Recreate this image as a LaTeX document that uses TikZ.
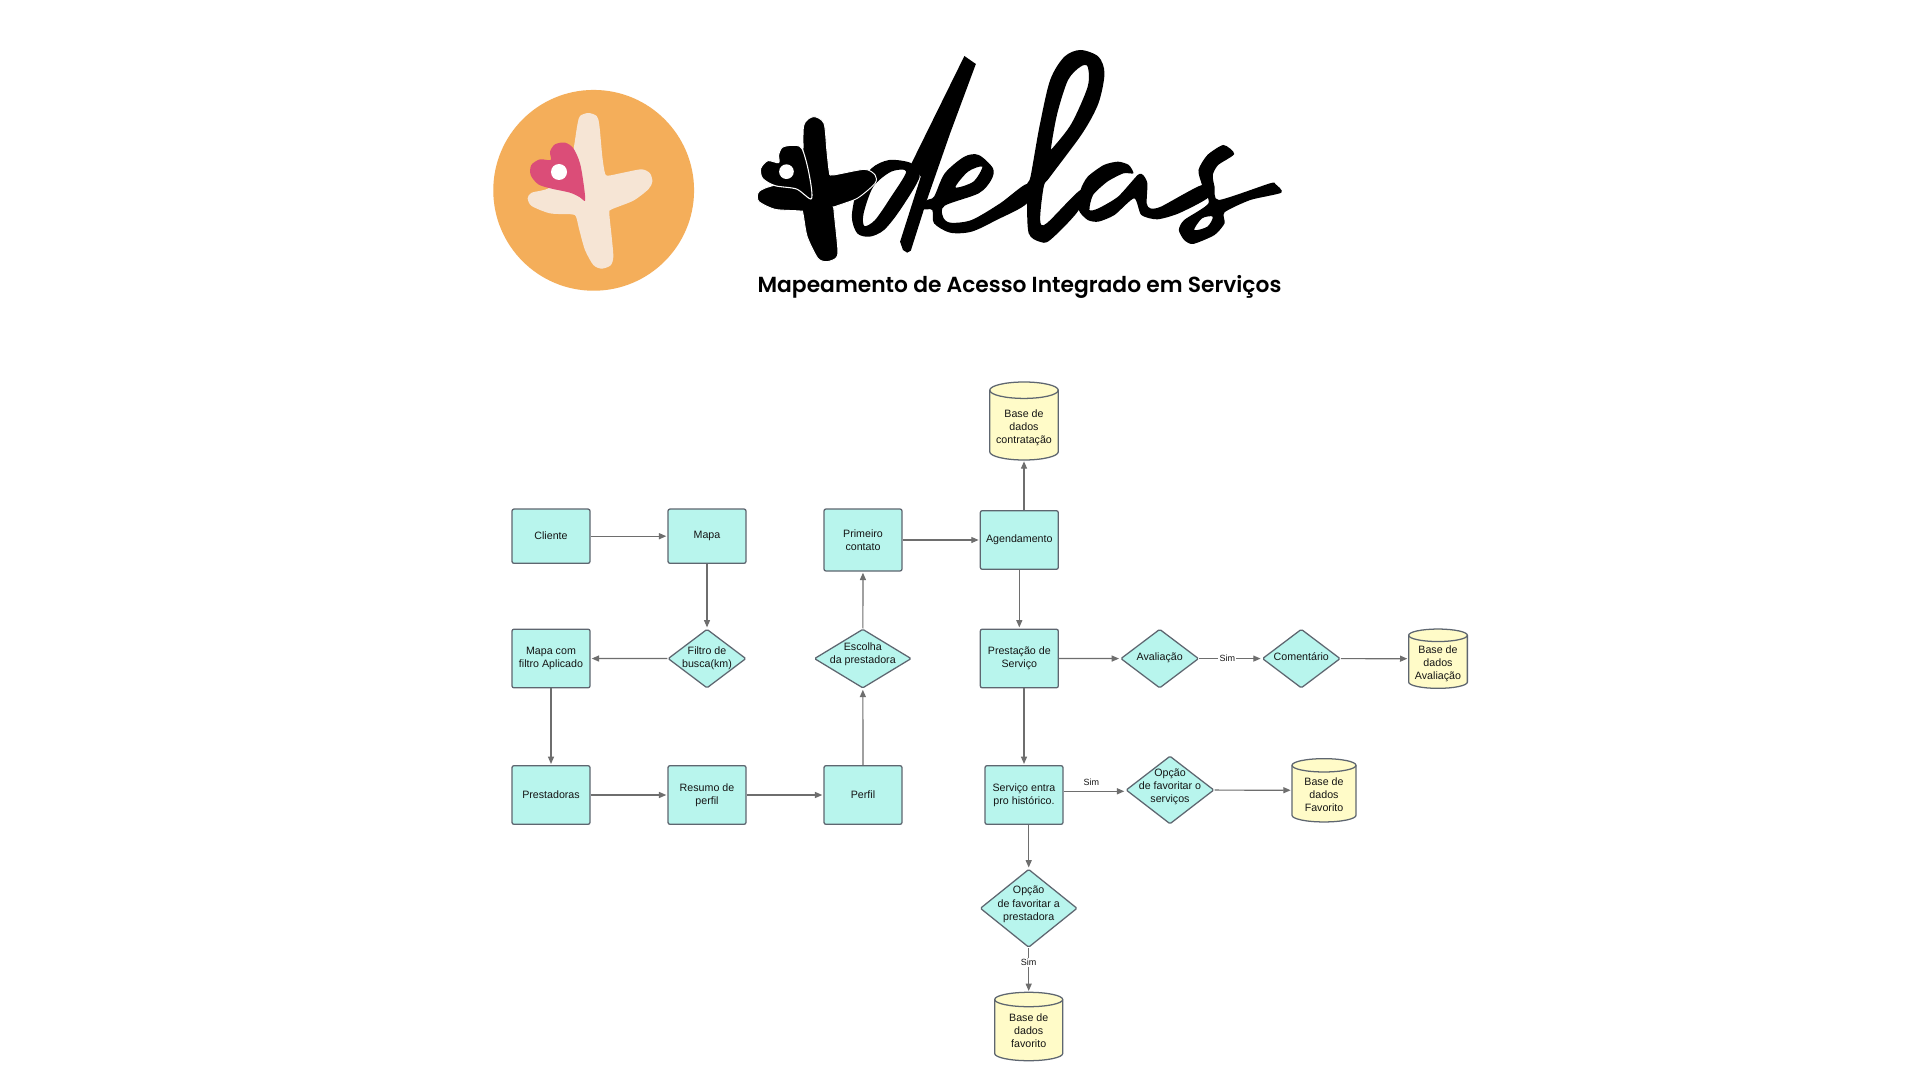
\documentclass[tikz,border=0pt]{standalone}
\usepackage{fontspec}
\setmainfont{Liberation Sans}
\newfontfamily\titlefont{Poppins SemiBold}
\usetikzlibrary{arrows.meta,shapes.geometric,calc}
\definecolor{cfill}{HTML}{B8F5ED}
\definecolor{yfill}{HTML}{FFFBC8}
\definecolor{nodeline}{HTML}{5E6670}
\definecolor{connline}{HTML}{6E6E6E}
\definecolor{ink}{HTML}{151515}
\definecolor{orangebg}{HTML}{F4AE5A}
\definecolor{creamc}{HTML}{F6E5D5}
\definecolor{pinkh}{HTML}{DB4D78}
\tikzset{
  lbl/.style={font=\fontsize{8}{9.85}\selectfont,text=ink,align=center,inner sep=0pt},
  procbox/.style={rectangle,rounded corners=1.5pt,draw=nodeline,line width=0.95pt,fill=cfill,minimum width=58.5pt,inner sep=0pt,lbl},
  oneline/.style={text height=5.9pt,text depth=1.7pt},
  decis/.style={diamond,rounded corners=1pt,draw=nodeline,line width=0.95pt,fill=cfill,inner sep=0pt},
  cylnode/.style={rectangle,inner sep=0pt},
  cylline/.style={draw=nodeline,line width=0.95pt,fill=yfill},
  conn/.style={draw=connline,line width=0.9pt,-{Triangle[length=5.5pt,width=4.5pt]},shorten >=0.8pt},
  simlbl/.style={font=\fontsize{6.75}{8}\selectfont,text=ink,inner sep=1pt},
}
% name, cx, cy, w, h, text, text shift (px)
\newcommand{\dbcyl}[7]{%
  \pgfmathsetmacro\cylL{#2-#4/2}\pgfmathsetmacro\cylR{#2+#4/2}%
  \pgfmathsetmacro\cylT{#3-#5/2}\pgfmathsetmacro\cylB{#3+#5/2}%
  \pgfmathsetmacro\cylRy{#5/9.5}%
  \pgfmathsetmacro\cylRxp{#4/2*0.75}\pgfmathsetmacro\cylRyp{\cylRy*0.75}%
  \draw[cylline] (\cylL,\cylT+\cylRy) arc[start angle=180,end angle=0,x radius=\cylRxp pt,y radius=\cylRyp pt]
    -- (\cylR,\cylB-\cylRy) arc[start angle=0,end angle=-180,x radius=\cylRxp pt,y radius=\cylRyp pt] -- cycle;
  \draw[cylline,fill=none] (\cylR,\cylT+\cylRy) arc[start angle=0,end angle=-180,x radius=\cylRxp pt,y radius=\cylRyp pt];
  \node[cylnode,minimum width=#4*0.75pt,minimum height=#5*0.75pt] (#1) at (#2,#3) {};
  \node[lbl] (#1-t) at (#2,#3+#7) {#6};
}
% name, cx, cy, w, h, text, text shift (px)
\newcommand{\decnode}[7]{%
  \node[decis,minimum width=#4*0.75pt,minimum height=#5*0.75pt] (#1) at (#2,#3) {};
  \node[lbl] (#1-t) at (#2,#3+#7) {#6};
}
\begin{document}
\begin{tikzpicture}[x=0.75pt,y=-0.75pt]
\useasboundingbox (0,0) rectangle (1920,1080);
\fill[white] (0,0) rectangle (1920,1080);

% round logo
\begin{scope}[shift={(490,80)},x=0.25pt,y=-0.25pt]
\fill[orangebg] (311,331) circle[radius=75.3pt];
\fill[creamc] plot[smooth cycle,tension=0.45] coordinates {(262,135)(270,108)(295,99)(320,108)(328,135)(337,230)(345,280)(355,287)(400,278)(455,268)(480,280)(487,305)(475,328)(430,362)(365,388)(358,400)(365,470)(370,530)(362,556)(335,566)(310,555)(285,510)(268,450)(258,410)(245,403)(180,400)(125,378)(113,355)(125,338)(180,322)(240,250)};
\fill[pinkh] plot[smooth cycle,tension=0.5] coordinates {(285,362)(282,320)(270,250)(250,205)(225,188)(195,193)(180,215)(182,240)(150,238)(124,255)(122,285)(145,313)(185,326)(240,338)(270,352)};
\fill[white] (207,276) circle[radius=6pt];
\end{scope}

% wordmark
\begin{scope}[shift={(750,40)},x=0.268pt,y=-0.25pt]
% d stem
\fill[black] (600,48) -- (632,72) -- (560,280) -- (495,480) -- (450,632) -- (440,638) -- (428,630) -- (420,605) -- (478,410) -- (452,370) -- cycle;
% d bowl
\fill[black,even odd rule] plot[smooth cycle,tension=0.5] coordinates {(452,370)(390,360)(340,385)(300,450)(285,530)(300,580)(335,590)(375,570)(420,510)(475,410)}
  plot[smooth cycle,tension=0.5] coordinates {(437,395)(395,395)(345,440)(318,520)(320,558)(350,540)(395,470)};
% plus
\draw[white,line width=0.7pt,fill=black] plot[smooth cycle,tension=0.45] coordinates {(150,258)(178,230)(207,250)(215,330)(222,395)(232,405)(320,388)(350,405)(350,430)(300,475)(238,500)(235,510)(246,630)(240,655)(215,665)(190,655)(160,590)(148,520)(140,513)(70,508)(25,485)(22,460)(40,445)(140,400)};
% heart
\draw[white,line width=0.8pt,fill=black] plot[smooth cycle,tension=0.5] coordinates {(172,476)(165,400)(145,325)(118,316)(90,322)(80,345)(80,368)(50,362)(30,385)(35,415)(70,437)(130,447)};
\fill[white] (102,395) ellipse[x radius=5.5pt,y radius=5.5pt];
% e
\fill[black,even odd rule] plot[smooth cycle,tension=0.5] coordinates {(515,470)(545,400)(600,350)(640,345)(680,385)(675,420)(640,460)(545,497)(540,530)(560,548)(620,540)(700,490)(775,432)(775,490)(690,540)(620,575)(560,578)(515,550)(510,510)(485,507)(495,480)}
  plot[smooth cycle,tension=0.5] coordinates {(650,380)(610,395)(575,442)(625,425)};
% l
\fill[black,even odd rule] plot[smooth cycle,tension=0.5] coordinates {(775,432)(785,410)(810,260)(840,120)(880,50)(925,30)(975,50)(992,100)(975,190)(930,280)(840,410)(822,440)(812,540)(830,550)(925,450)(920,510)(840,600)(810,605)(780,580)(775,490)}
  plot[smooth cycle,tension=0.5] coordinates {(945,80)(925,80)(890,120)(860,220)(843,320)(850,320)(900,250)(945,140)};
% a
\fill[black] plot[smooth cycle,tension=0.4] coordinates {(925,450)(945,410)(990,375)(1030,365)(1060,375)(1073,400)(1045,400)(1000,425)(960,465)(950,510)(975,505)(1030,470)(1085,405)(1100,405)(1112,430)(1110,490)(1120,505)(1150,500)(1265,435)(1283,472)(1200,520)(1140,538)(1095,525)(1075,475)(1020,525)(975,545)(945,540)(920,510)};
% s
\fill[black,even odd rule] plot[smooth cycle,tension=0.4] coordinates {(1325,315)(1355,342)(1310,375)(1295,405)(1300,440)(1312,480)(1455,430)(1470,432)(1487,458)(1400,480)(1328,517)(1328,550)(1300,585)(1240,612)(1215,600)(1200,570)(1215,540)(1283,490)(1265,435)(1255,390)(1280,345)}
  plot[smooth cycle,tension=0.5] coordinates {(1295,530)(1265,535)(1243,570)(1280,560)};
\end{scope}

\node[anchor=base,inner sep=0pt,font=\titlefont\fontsize{16.35}{18}\selectfont,text=black] (title) at (1019.5,292.4) {Mapeamento de Acesso Integrado em Serviços};

% process boxes
\node[procbox,oneline,minimum height=40.7pt] (cliente) at (551,536.2) {Cliente};
\node[procbox,minimum height=40.7pt] (mapa) at (707,536.2) {Mapa};
\node[procbox,minimum height=46.5pt] (primeiro) at (863,540) {Primeiro\\contato};
\node[procbox,minimum height=44pt] (agenda) at (1019.3,540) {Agendamento};
\node[procbox,minimum height=44pt] (mapacom) at (551,658.5) {Mapa com\\filtro Aplicado};
\node[procbox,minimum height=44pt] (prestacao) at (1019.3,658.5) {Prestação de\\Serviço};
\node[procbox,minimum height=44pt] (prestadoras) at (551,795) {Prestadoras};
\node[procbox,minimum height=44pt] (resumo) at (707,795) {Resumo de\\perfil};
\node[procbox,minimum height=44pt] (perfil) at (863,795) {Perfil};
\node[procbox,minimum height=44pt] (servico) at (1024,795) {Serviço entra\\pro histórico.};

% decisions
\decnode{filtro}{707}{658.6}{78}{59}{Filtro de\\busca(km)}{-0.5}
\decnode{escolha}{862.8}{658.6}{97}{59}{Escolha\\da prestadora}{-4}
\decnode{avaliacao}{1159.7}{658.6}{78}{59}{Avaliação}{-1}
\decnode{comentario}{1301.3}{658.6}{78}{59}{Comentário}{-2}
\decnode{opcserv}{1170}{790}{88}{68}{Opção\\de favoritar o\\serviços}{-3}
\decnode{opcprest}{1028.7}{908.3}{97}{78.2}{Opção\\de favoritar a\\prestadora}{-4}

% databases
\dbcyl{dbcontrat}{1024}{421}{68.5}{78}{Base de\\dados\\contratação}{6.8}
\dbcyl{dbaval}{1438}{658.7}{58.7}{59.3}{Base de\\dados\\Avaliação}{5}
\dbcyl{dbfavs}{1324}{790.3}{64}{63.3}{Base de\\dados\\Favorito}{4.5}
\dbcyl{dbfavp}{1028.7}{1026.5}{68}{68.4}{Base de\\dados\\favorito}{4.5}

% connectors
\coordinate (opcservin) at ($(opcserv.west)+(0,1.3)$);
\draw[conn] (cliente) -- (mapa);
\draw[conn] (mapa) -- (filtro);
\draw[conn] (filtro) -- (mapacom);
\draw[conn] (mapacom) -- (prestadoras);
\draw[conn] (prestadoras) -- (resumo);
\draw[conn] (resumo) -- (perfil);
\draw[conn] (perfil) -- (escolha);
\draw[conn] (escolha) -- (primeiro);
\draw[conn] (primeiro) -- (agenda);
\draw[conn] (dbcontrat.south |- agenda.north) -- (dbcontrat.south);
\draw[conn] (agenda) -- (prestacao);
\draw[conn] (prestacao) -- (avaliacao);
\draw[conn] (avaliacao) -- node[simlbl,fill=white,pos=0.45,yshift=0.6pt] (sim1) {Sim} (comentario);
\draw[conn] (comentario) -- (dbaval);
\draw[conn] (servico.north |- prestacao.south) -- (servico.north);
\draw[conn] (servico.east |- opcservin) -- node[simlbl,pos=0.45,above=2.5pt] (sim2) {Sim} (opcservin);
\draw[conn] (opcserv) -- (dbfavs);
\draw[conn] (opcprest.north |- servico.south) -- (opcprest.north);
\draw[conn] (opcprest) -- node[simlbl,fill=white,pos=0.33] (sim3) {Sim} (dbfavp);
\end{tikzpicture}
\end{document}
